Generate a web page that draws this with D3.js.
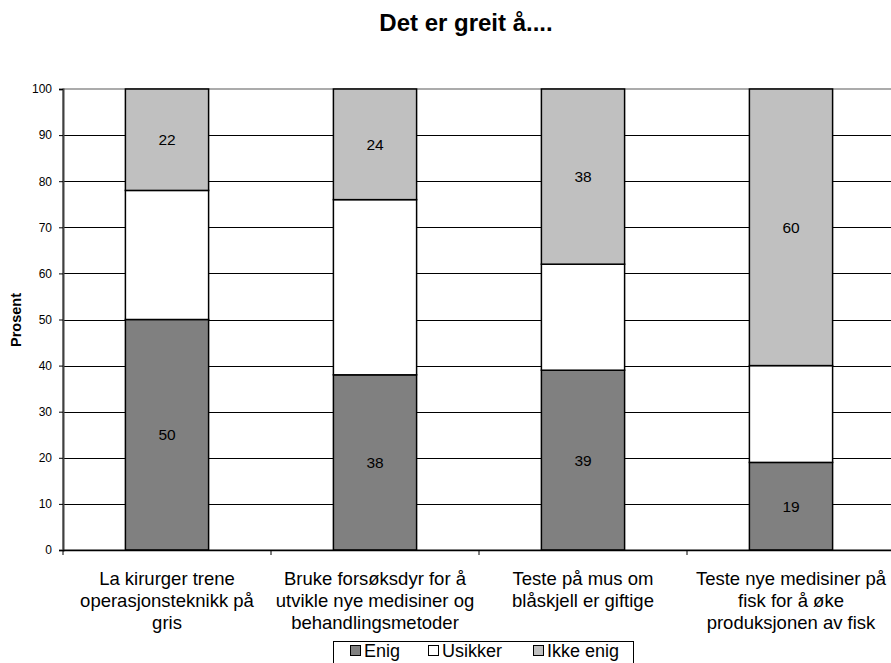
<!DOCTYPE html>
<html><head><meta charset="utf-8">
<script src="https://cdn.jsdelivr.net/npm/d3@7"></script>
<style>body{margin:0;background:#fff}svg{display:block;font-family:"Liberation Sans",Arial,sans-serif}</style>
</head><body>
<script>
const categories = ["c1","c2","c3","c4"];
const categoryLabels = [
  ["La kirurger trene","operasjonsteknikk på","gris"],
  ["Bruke forsøksdyr for å","utvikle nye medisiner og","behandlingsmetoder"],
  ["Teste på mus om","blåskjell er giftige"],
  ["Teste nye medisiner på","fisk for å øke","produksjonen av fisk"]
];
const seriesNames = ["Enig","Usikker","Ikke enig"];
const enig = [50,38,39,19];
const usikker = [28,38,23,21];
const ikkeEnig = [22,24,38,60];
const showLabel = [true,false,true];
const colors = ["#808080","#ffffff","#c0c0c0"];
const yTicks = [0,10,20,30,40,50,60,70,80,90,100];
const title = "Det er greit å....";
const yTitle = "Prosent";

const W=891,H=663;
const svg=d3.select("body").append("svg").attr("width",W).attr("height",H);
const x=d3.scaleBand().domain(categories).range([63,895]).paddingInner(0.6).paddingOuter(0.3);
const y=d3.scaleLinear().domain([0,100]).range([550,89]);

const rows=categories.map((c,i)=>({cat:c,Enig:enig[i],Usikker:usikker[i],"Ikke enig":ikkeEnig[i]}));
const stack=d3.stack().keys(seriesNames)(rows);

// plot border (gray)
svg.append("rect").attr("x",63).attr("y",y(100)).attr("width",900).attr("height",y(0)-y(100))
  .attr("fill","none").attr("stroke","#909090").attr("stroke-width",1.5);
// gridlines
svg.append("g").selectAll("line").data(yTicks.filter(t=>t>0&&t<100)).join("line")
  .attr("x1",63).attr("x2",W).attr("y1",d=>Math.round(y(d))+0.5).attr("y2",d=>Math.round(y(d))+0.5)
  .attr("stroke","#000").attr("stroke-width",1);

// bars
stack.forEach((s,si)=>{
  const g=svg.append("g");
  g.selectAll("rect").data(s).join("rect")
    .attr("x",d=>x(d.data.cat)).attr("width",x.bandwidth())
    .attr("y",d=>y(d[1])).attr("height",d=>y(d[0])-y(d[1]))
    .attr("fill",colors[si]).attr("stroke","#000").attr("stroke-width",1.5);
  if(showLabel[si]){
    g.selectAll("text").data(s).join("text")
      .attr("x",d=>x(d.data.cat)+x.bandwidth()/2).attr("y",d=>y((d[0]+d[1])/2))
      .attr("dy","0.36em").attr("text-anchor","middle").attr("font-size",15.5).attr("fill","#000")
      .text(d=>d[1]-d[0]);
  }
});

// y axis
const ya=svg.append("g").attr("transform","translate(63,0)")
  .call(d3.axisLeft(y).tickValues(yTicks).tickSize(4).tickPadding(7));
ya.select(".domain").attr("stroke","#404040").attr("stroke-width",2);
ya.selectAll(".tick line").attr("stroke","#000");
ya.selectAll("text").attr("font-size",12).attr("font-family","Liberation Sans, Arial, sans-serif").attr("fill","#000");

// x axis
svg.append("line").attr("x1",63).attr("x2",W).attr("y1",550.5).attr("y2",550.5).attr("stroke","#000").attr("stroke-width",1.5);
const step=x.step();
const bounds=[63].concat(categories.map(c=>x(c)-x.paddingInner()*step/2+step));
svg.append("g").selectAll("line").data(bounds).join("line")
  .attr("x1",d=>d).attr("x2",d=>d).attr("y1",550).attr("y2",555).attr("stroke","#000");
const xl=svg.append("g");
categories.forEach((c,i)=>{
  const t=xl.append("text").attr("text-anchor","middle").attr("font-size",18.5).attr("fill","#000");
  categoryLabels[i].forEach((ln,j)=>{
    t.append("tspan").attr("x",x(c)+x.bandwidth()/2).attr("y",585+j*22).text(ln);
  });
});

// titles
svg.append("text").attr("x",466).attr("y",31).attr("text-anchor","middle")
  .attr("font-weight","bold").attr("font-size",24).text(title);
svg.append("text").attr("transform","translate(21,320) rotate(-90)").attr("text-anchor","middle")
  .attr("font-weight","bold").attr("font-size",14.5).text(yTitle);

// legend
const lg=svg.append("g");
lg.append("rect").attr("x",333.5).attr("y",641.5).attr("width",300).attr("height",30).attr("fill","#fff").attr("stroke","#000");
const lx=[350,428,533];
seriesNames.forEach((n,i)=>{
  lg.append("rect").attr("x",lx[i]+0.5).attr("y",645.5).attr("width",10).attr("height",10)
    .attr("fill",colors[i]).attr("stroke","#000");
  lg.append("text").attr("x",lx[i]+14).attr("y",657).attr("font-size",18).text(n);
});
</script>
</body></html>
